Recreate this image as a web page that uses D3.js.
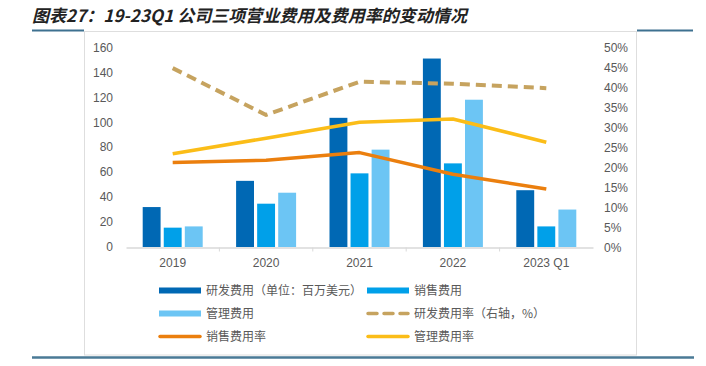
<!DOCTYPE html>
<html>
<head>
<meta charset="utf-8">
<script src="https://cdn.jsdelivr.net/npm/d3@7"></script>
<style>
  body { margin: 0; background: #fff; }
  svg { display: block; font-family: "Liberation Sans", "Noto Sans CJK SC", sans-serif; }
</style>
</head>
<body>
<svg width="706" height="366"></svg>
<script>
const years = ['2019', '2020', '2021', '2022', '2023 Q1']
const rdCost = [32, 53, 103.5, 151, 45.5]      // 研发费用 (百万美元)
const salesCost = [15.5, 34.7, 59, 67, 16.5]   // 销售费用
const adminCost = [16.5, 43.5, 78, 118, 30]    // 管理费用
const rdRate = [44.8, 33.1, 41.4, 40.9, 39.8]  // 研发费用率 %
const salesRate = [21.2, 21.8, 23.7, 18.3, 14.6]
const adminRate = [23.4, 27.3, 31.3, 32.1, 26.3]
const leftTicks = [0, 20, 40, 60, 80, 100, 120, 140, 160]
const rightTicks = [0, 5, 10, 15, 20, 25, 30, 35, 40, 45, 50]

const barSeries = [
    {name: '研发费用（单位：百万美元）', values: rdCost, color: '#0068b4'},
    {name: '销售费用', values: salesCost, color: '#00a0e9'},
    {name: '管理费用', values: adminCost, color: '#6cc5f4'}
]
const lineSeries = [
    {name: '研发费用率（右轴，%）', values: rdRate, color: '#c6a35f', dash: '10,6'},
    {name: '销售费用率', values: salesRate, color: '#eb7f0e', dash: null},
    {name: '管理费用率', values: adminRate, color: '#fbbd18', dash: null}
]

const svg = d3.select('svg')

// title
svg.append('text')
    .attr('x', 32).attr('y', 22)
    .attr('font-family', '"Noto Sans CJK SC", sans-serif')
    .attr('font-size', 17)
    .attr('font-weight', 'bold')
    .attr('font-style', 'italic')
    .attr('fill', '#222')
    .attr('textLength', 435)
    .attr('lengthAdjust', 'spacing')
    .text('图表27：19-23Q1 公司三项营业费用及费用率的变动情况')

// frame + rules
svg.append('rect')
    .attr('x', 84.5).attr('y', 31.5).attr('width', 552).attr('height', 323.5)
    .attr('fill', 'none').attr('stroke', '#dedede')
svg.append('line').attr('x1', 32).attr('x2', 84).attr('y1', 30.5).attr('y2', 30.5)
    .attr('stroke', '#3e7190').attr('stroke-width', 2)
svg.append('line').attr('x1', 637).attr('x2', 693).attr('y1', 30.5).attr('y2', 30.5)
    .attr('stroke', '#3e7190').attr('stroke-width', 2)
svg.append('line').attr('x1', 32).attr('x2', 694).attr('y1', 357.5).attr('y2', 357.5)
    .attr('stroke', '#4a7a96').attr('stroke-width', 2.5)

const x = d3.scaleBand()
    .domain(years)
    .range([126, 593])
    .padding(0)

const xSub = d3.scaleBand()
    .domain(barSeries.map(s => s.name))
    .range([-30, 30])
    .paddingInner(0.15)

const yL = d3.scaleLinear().domain([0, 160]).range([247, 47.3])
const yR = d3.scaleLinear().domain([0, 50]).range([247.5, 47.3])

const labelColor = '#595959'

// left axis
const leftAxis = svg.append('g')
    .attr('transform', 'translate(113,0)')
    .call(d3.axisLeft(yL).tickValues(leftTicks).tickSize(0).tickPadding(0))
leftAxis.select('.domain').remove()
leftAxis.selectAll('text').attr('fill', labelColor).attr('font-size', 12)
    .attr('font-family', '"Liberation Sans", sans-serif')

// right axis
const rightAxis = svg.append('g')
    .attr('transform', 'translate(604,0)')
    .call(d3.axisRight(yR).tickValues(rightTicks).tickSize(0).tickPadding(0)
        .tickFormat(d => d + '%'))
rightAxis.select('.domain').remove()
rightAxis.selectAll('text').attr('fill', labelColor).attr('font-size', 12)
    .attr('font-family', '"Liberation Sans", sans-serif')

// bars
svg.append('g')
    .selectAll('g')
    .data(barSeries)
    .join('g')
    .attr('fill', s => s.color)
    .selectAll('rect')
    .data(s => s.values.map((v, i) => ({s: s, v: v, year: years[i]})))
    .join('rect')
    .attr('x', d => x(d.year) + x.bandwidth() / 2 + xSub(d.s.name))
    .attr('width', xSub.bandwidth())
    .attr('y', d => yL(d.v))
    .attr('height', d => yL(0) - yL(d.v))

// x axis
const bottomAxis = svg.append('g')
    .attr('transform', 'translate(0,247.5)')
    .call(d3.axisBottom(x).tickSize(0).tickPadding(11))
bottomAxis.select('.domain').attr('stroke', '#d9d9d9').attr('stroke-width', 1.5)
bottomAxis.selectAll('text').attr('fill', labelColor).attr('font-size', 12)
    .attr('font-family', '"Liberation Sans", sans-serif')
bottomAxis.selectAll('.sep')
    .data(years.slice(1))
    .join('line')
    .attr('class', 'sep')
    .attr('x1', d => x(d)).attr('x2', d => x(d))
    .attr('y1', 0).attr('y2', 4)
    .attr('stroke', '#d9d9d9')

// lines
const line = d3.line()
    .x((d, i) => x(years[i]) + x.bandwidth() / 2)
    .y(d => yR(d))

svg.append('g')
    .selectAll('path')
    .data(lineSeries)
    .join('path')
    .attr('d', s => line(s.values))
    .attr('fill', 'none')
    .attr('stroke', s => s.color)
    .attr('stroke-width', s => s.dash ? 4 : 3.5)
    .attr('stroke-dasharray', s => s.dash)
    .attr('stroke-linejoin', 'round')

// legend
const legendItems = [
    {label: barSeries[0].name, color: barSeries[0].color, type: 'bar'},
    {label: barSeries[1].name, color: barSeries[1].color, type: 'bar'},
    {label: barSeries[2].name, color: barSeries[2].color, type: 'bar'},
    {label: lineSeries[0].name, color: lineSeries[0].color, type: 'dash'},
    {label: lineSeries[1].name, color: lineSeries[1].color, type: 'line'},
    {label: lineSeries[2].name, color: lineSeries[2].color, type: 'line'}
]
const legend = svg.append('g')
    .selectAll('g')
    .data(legendItems)
    .join('g')
    .attr('transform', (d, i) => `translate(${i % 2 ? 367 : 159},${290.5 + Math.floor(i / 2) * 23})`)

legend.filter(d => d.type === 'bar').append('rect')
    .attr('x', 0).attr('y', -3).attr('width', 42).attr('height', 6)
    .attr('fill', d => d.color)
legend.filter(d => d.type !== 'bar').append('line')
    .attr('x1', 1).attr('x2', 41).attr('y1', 0).attr('y2', 0)
    .attr('stroke', d => d.color)
    .attr('stroke-width', 3.5)
    .attr('stroke-linecap', 'round')
    .attr('stroke-dasharray', d => d.type === 'dash' ? '9,7' : null)
legend.append('text')
    .attr('x', 47).attr('y', 0).attr('dy', '0.36em')
    .attr('font-family', '"Noto Sans CJK SC", sans-serif')
    .attr('font-size', 12)
    .attr('fill', labelColor)
    .text(d => d.label)
</script>
</body>
</html>
